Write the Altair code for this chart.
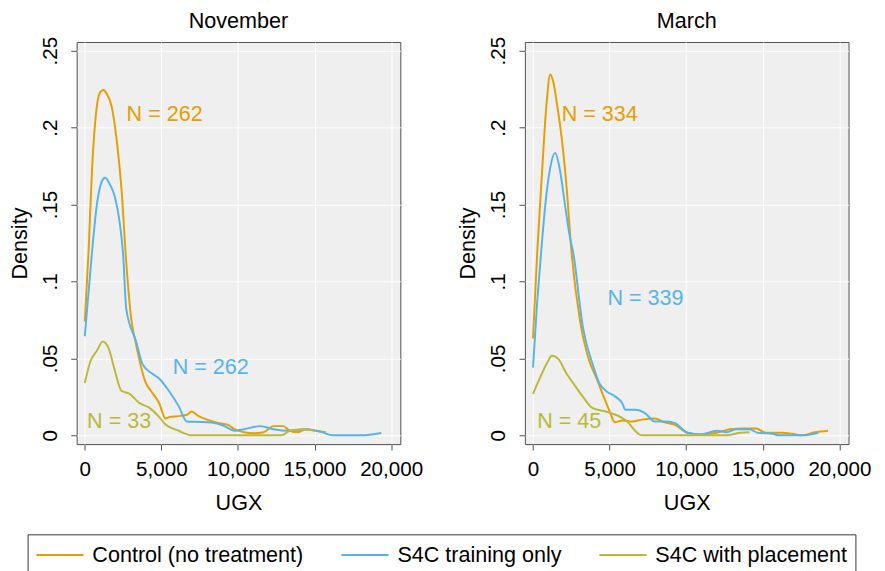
import altair as alt
import pandas as pd

groups = ["Control (no treatment)", "S4C training only", "S4C with placement"]
colors = ["#E69F00", "#56B4E9", "#BAB93B"]

# November
nov_ctrl_x = [0, 250, 470, 790, 1000, 1216, 1430, 1750, 2070, 2390, 2710, 3030, 3350, 3990, 4310, 4850,
              5270, 5570, 6130, 6660, 6980, 7410, 8050, 8690, 9330, 9760, 10400, 11030, 11670, 12320,
              12960, 13380, 13920, 14450, 15090, 15730]
nov_ctrl_y = [.074, .12, .172, .214, .223, .2245, .222, .214, .193, .161, .112, .076, .059, .034, .029, .021,
              .011, .012, .0125, .0134, .0155, .0127, .010, .008, .007, .004, .002, .0013, .002, .006,
              .006, .003, .002, .004, .003, .002]
nov_train_x = [0, 470, 790, 1110, 1325, 1645, 1965, 2285, 2500, 2710, 3350, 3780, 4420, 4850, 5490, 6130,
               6660, 7410, 8260, 9120, 9760, 10400, 11460, 12320, 13380, 14450, 15520, 16160, 18080, 19360]
nov_train_y = [.0644, .119, .150, .165, .1675, .163, .155, .138, .118, .082, .061, .046, .040, .037, .029, .019,
               .009, .0087, .0083, .006, .003, .004, .006, .004, .003, .004, .002, 0, 0, .0015]
nov_place_x = [0, 365, 790, 1180, 1540, 1965, 2390, 2925, 3570, 4200, 4850, 5270, 6130, 6980, 12850, 13380,
               14240, 15000]
nov_place_y = [.034, .048, .055, .061, .057, .042, .029, .027, .021, .018, .012, .007, .003, 0, 0, .003,
               .004, .003]

# March
mar_ctrl_x = [0, 275, 595, 870, 1126, 1340, 1555, 1875, 2195, 2515, 3045, 3685, 4110, 4540, 4965, 5350,
              5820, 6460, 7100, 7950, 8590, 9235, 10080, 10935, 12000, 12860, 13710, 14560, 15200, 16270,
              16910, 17550, 18400, 19260]
mar_ctrl_y = [.063, .119, .172, .214, .2345, .229, .216, .193, .161, .119, .076, .048, .038, .027, .0166, .0085,
              .0097, .009, .0102, .011, .0085, .007, .0017, .0006, .0017, .004, .0045, .0045, .0017, .0017,
              .001, 0, .002, .003]
mar_train_x = [0, 275, 530, 805, 1126, 1446, 1766, 2085, 2405, 2620, 3260, 3900, 4325, 4750, 5395, 5820,
               6035, 6675, 7310, 7950, 8590, 9235, 10080, 10935, 12000, 12650, 13280, 14130, 14670, 15630,
               16060, 17550, 18620]
mar_train_y = [.044, .087, .119, .150, .174, .1835, .172, .150, .129, .119, .070, .046, .034, .029, .025, .021,
               .0166, .0166, .0145, .009, .009, .0081, .0017, .0006, .003, .002, .004, .004, .0017, .001,
               0, 0, .0017]
mar_place_x = [0, 485, 915, 1235, 1660, 2195, 2620, 3260, 3900, 4750, 5395, 6035, 7100, 12640, 13500, 14140]
mar_place_y = [.027, .038, .047, .0517, .0495, .040, .034, .025, .0177, .0155, .0134, .010, 0, 0, .0017, .002]

# N labels: (text, x, y, group)
nov_labels = [("N = 262", 2730, 0.209, groups[0]), ("N = 262", 5740, 0.0442, groups[1]),
              ("N = 33", 150, 0.0091, groups[2])]
mar_labels = [("N = 334", 1875, 0.209, groups[0]), ("N = 339", 4860, 0.0895, groups[1]),
              ("N = 45", 275, 0.0091, groups[2])]

x_ticks = [0, 5000, 10000, 15000, 20000]
y_ticks = [0, 0.05, 0.1, 0.15, 0.2, 0.25]

FONT = "Liberation Sans"
color_scale = alt.Scale(domain=groups, range=colors)


def panel(title, series, labels, show_legend):
    rows = []
    for g, (xs, ys) in zip(groups, series):
        for xv, yv in zip(xs, ys):
            rows.append({"group": g, "ugx": xv, "density": yv})
    df = pd.DataFrame(rows)
    lab = pd.DataFrame(labels, columns=["text", "ugx", "density", "group"])

    xenc = alt.X("ugx:Q", scale=alt.Scale(domain=[-530, 20600], nice=False, zero=False),
                 axis=alt.Axis(values=x_ticks, format=",d", title="UGX", labelPadding=9, titlePadding=14))
    yenc = alt.Y("density:Q", scale=alt.Scale(domain=[-0.0057, 0.2557], nice=False, zero=False),
                 axis=alt.Axis(values=y_ticks, title="Density", labelAngle=270, labelAlign="center",
                               labelBaseline="bottom", labelPadding=11, titlePadding=8,
                               labelExpr="datum.value == 0 ? '0' : substring(format(datum.value, '.2~f'), 1)"))
    if show_legend:
        leg = alt.Legend(title=None, orient="none", legendX=-50, legendY=502, direction="horizontal",
                         columns=3, symbolType="M-2,0H2", symbolSize=576, symbolStrokeWidth=2,
                         symbolOffset=12, labelOffset=20, labelFontSize=22, labelFont=FONT,
                         labelColor="black", labelLimit=400, columnPadding=34, padding=8,
                         strokeColor="#333333", fillColor="white", cornerRadius=0)
    else:
        leg = None
    lines = alt.Chart(df).mark_line(strokeWidth=2, interpolate="monotone").encode(
        x=xenc, y=yenc,
        color=alt.Color("group:N", scale=color_scale, legend=leg),
    )
    text = alt.Chart(lab).mark_text(align="left", baseline="middle", fontSize=22, font=FONT).encode(
        x="ugx:Q", y="density:Q", text="text:N",
        color=alt.Color("group:N", scale=color_scale, legend=None),
    )
    return alt.layer(lines, text).properties(
        width=330, height=410, title=alt.TitleParams(title, frame="group")
    )


left = panel("November", [(nov_ctrl_x, nov_ctrl_y), (nov_train_x, nov_train_y), (nov_place_x, nov_place_y)],
             nov_labels, True)
right = panel("March", [(mar_ctrl_x, mar_ctrl_y), (mar_train_x, mar_train_y), (mar_place_x, mar_place_y)],
              mar_labels, False)

chart = alt.hconcat(left, right, spacing=33).properties(
    padding={"left": 0, "top": -5, "right": 5, "bottom": 5}, background="white"
).configure_view(
    fill="#efefef", stroke="#4d4d4d", strokeWidth=1
).configure_axis(
    gridColor="white", gridWidth=1, domain=False, tickColor="#4d4d4d", tickSize=6,
    labelFont=FONT, labelFontSize=21, labelColor="black",
    titleFont=FONT, titleFontSize=22, titleFontWeight="normal", titleColor="black"
).configure_title(
    font=FONT, fontSize=22, fontWeight="normal", color="black", offset=4
)

chart.save("out.html", embed_options={"renderer": "svg", "actions": False})
